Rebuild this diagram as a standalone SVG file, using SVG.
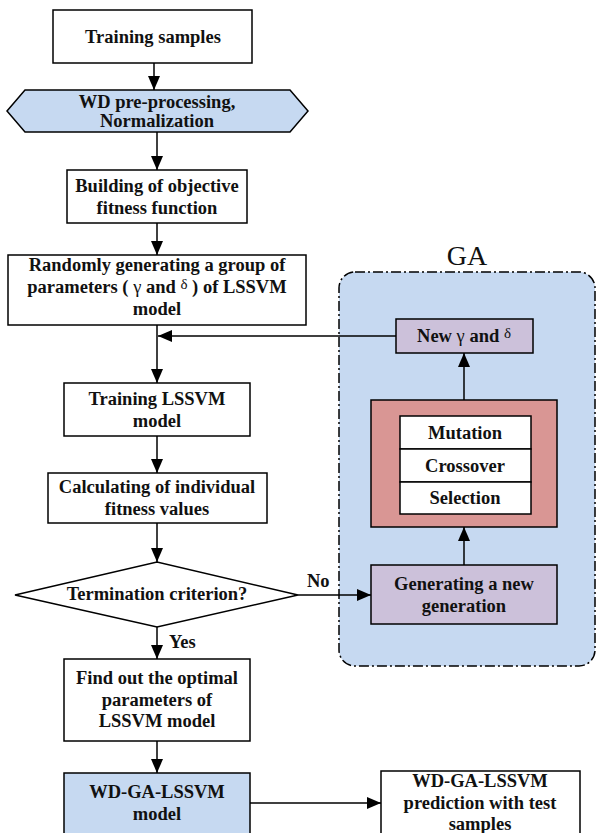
<svg xmlns="http://www.w3.org/2000/svg" width="597" height="833" viewBox="0 0 597 833">
<defs>
<marker id="ah" markerWidth="14" markerHeight="12" refX="14" refY="6" orient="auto" markerUnits="userSpaceOnUse">
<path d="M0,0 L14,6 L0,12 z" fill="#000"/>
</marker>
<style>
.box{fill:#fff;stroke:#000;stroke-width:1.5}
.blue{fill:#c6d9f1;stroke:#000;stroke-width:1.5}
.purple{fill:#ccc1da;stroke:#000;stroke-width:1.5}
.red{fill:#d99694;stroke:#000;stroke-width:1.5}
.t{font-family:"Liberation Serif","Times New Roman",serif;font-weight:bold;font-size:18.5px;fill:#111;text-anchor:middle}
.g{font-weight:normal}
.con{stroke:#000;stroke-width:1.5;fill:none;marker-end:url(#ah)}
.lbl{font-family:"Liberation Serif","Times New Roman",serif;font-weight:bold;font-size:18.5px;fill:#111}
</style>
</defs>
<rect width="597" height="833" fill="#fff"/>

<g id="ga-region">
<rect x="339" y="272" width="256" height="394" rx="16" ry="16" fill="#c6d9f1" stroke="#000" stroke-width="1.5" stroke-dasharray="10,3,2,3"/>
<text x="467" y="265" font-family="'Liberation Serif','Times New Roman',serif" font-size="28" text-anchor="middle" fill="#111">GA</text>
</g>

<g id="training-samples">
<rect class="box" x="53" y="10" width="199" height="53"/>
<text class="t" x="153" y="42.5">Training samples</text>
</g>

<g id="wd-preprocessing">
<polygon class="blue" points="7,111 25,90 290,90 308,111 290,132 25,132"/>
<text class="t" x="157" y="108">WD pre-processing,</text>
<text class="t" x="157" y="127">Normalization</text>
</g>

<g id="objective">
<rect class="box" x="67" y="170" width="180" height="53"/>
<text class="t" x="157" y="192">Building of objective</text>
<text class="t" x="157" y="213.5">fitness function</text>
</g>

<g id="random-params">
<rect class="box" x="8" y="255" width="298" height="70"/>
<text class="t" x="157" y="271">Randomly generating a group of</text>
<text class="t" x="157" y="293">parameters ( <tspan class="g">γ</tspan> and <tspan class="g" font-size="15" dy="-4">δ</tspan><tspan dy="4"> ) of LSSVM</tspan></text>
<text class="t" x="157" y="315">model</text>
</g>

<g id="training-lssvm">
<rect class="box" x="64" y="383" width="186" height="53"/>
<text class="t" x="157" y="405">Training LSSVM</text>
<text class="t" x="157" y="426.5">model</text>
</g>

<g id="fitness-values">
<rect class="box" x="48" y="473" width="219" height="50"/>
<text class="t" x="157" y="493">Calculating of individual</text>
<text class="t" x="157" y="514.5">fitness values</text>
</g>

<g id="termination">
<polygon class="box" points="15,595 157,562 298,595 157,627"/>
<text class="t" x="157" y="600">Termination criterion?</text>
</g>

<g id="optimal">
<rect class="box" x="64" y="659" width="186" height="82"/>
<text class="t" x="157" y="684">Find out the optimal</text>
<text class="t" x="157" y="705.5">parameters of</text>
<text class="t" x="157" y="727">LSSVM model</text>
</g>

<g id="wd-ga-lssvm">
<rect class="blue" x="64" y="773" width="186" height="80"/>
<text class="t" x="157" y="798">WD-GA-LSSVM</text>
<text class="t" x="157" y="820">model</text>
</g>

<g id="prediction">
<rect class="box" x="381" y="771" width="199" height="80"/>
<text class="t" x="480" y="787">WD-GA-LSSVM</text>
<text class="t" x="480" y="808.5">prediction with test</text>
<text class="t" x="480" y="830">samples</text>
</g>

<g id="new-params">
<rect class="purple" x="396" y="319" width="137" height="34"/>
<text class="t" x="464" y="342">New <tspan class="g">γ</tspan> and <tspan class="g" font-size="15" dy="-4">δ</tspan></text>
</g>

<g id="operators">
<rect class="red" x="371" y="400" width="186" height="127"/>
<rect class="box" x="400" y="416" width="131" height="33"/>
<rect class="box" x="400" y="449" width="131" height="33"/>
<rect class="box" x="400" y="482" width="131" height="32"/>
<text class="t" x="465" y="438.5">Mutation</text>
<text class="t" x="465" y="471.5">Crossover</text>
<text class="t" x="465" y="504">Selection</text>
</g>

<g id="new-generation">
<rect class="purple" x="371" y="565" width="186" height="59"/>
<text class="t" x="464" y="590">Generating a new</text>
<text class="t" x="464" y="611.5">generation</text>
</g>

<g id="connectors">
<line class="con" x1="154" y1="63" x2="154" y2="90"/>
<line class="con" x1="157" y1="132" x2="157" y2="170"/>
<line class="con" x1="157" y1="223" x2="157" y2="255"/>
<line class="con" x1="157" y1="325" x2="157" y2="383"/>
<line class="con" x1="396" y1="336" x2="158" y2="336"/>
<line class="con" x1="157" y1="436" x2="157" y2="473"/>
<line class="con" x1="157" y1="523" x2="157" y2="562"/>
<line class="con" x1="157" y1="627" x2="157" y2="659"/>
<line class="con" x1="157" y1="741" x2="157" y2="773"/>
<line class="con" x1="250" y1="803" x2="381" y2="803"/>
<line class="con" x1="298" y1="595" x2="371" y2="595"/>
<line class="con" x1="464" y1="565" x2="464" y2="527"/>
<line class="con" x1="464" y1="400" x2="464" y2="353"/>
<text class="lbl" x="307" y="587">No</text>
<text class="lbl" x="169" y="648">Yes</text>
</g>
</svg>
